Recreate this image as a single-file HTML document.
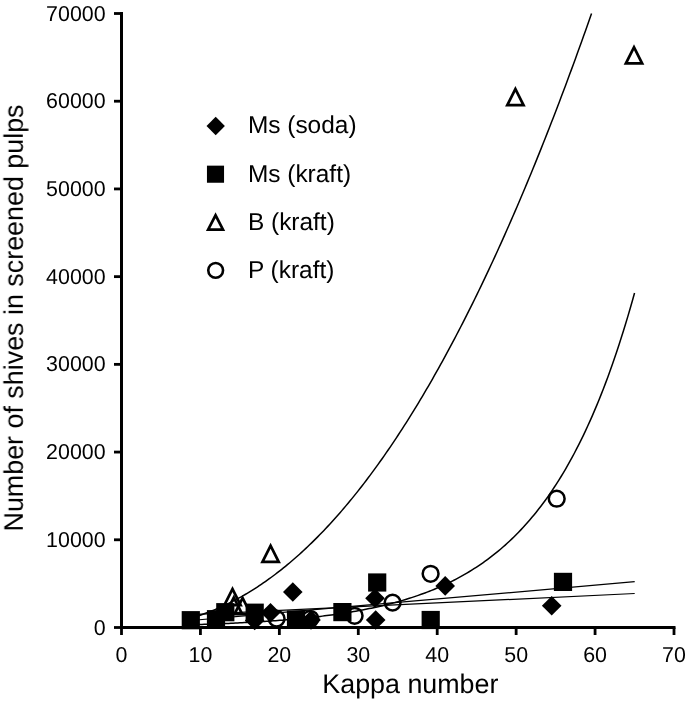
<!DOCTYPE html>
<html><head><meta charset="utf-8"><title>Chart</title>
<style>html,body{margin:0;padding:0;background:#fff;}body{width:685px;height:702px;overflow:hidden;font-family:"Liberation Sans",sans-serif;}svg{display:block;}text{font-family:"Liberation Sans",sans-serif;fill:#000;text-rendering:geometricPrecision;}</style></head><body>
<svg width="685" height="702" viewBox="0 0 685 702">
<rect width="685" height="702" fill="#fff"/>
<g fill="none" stroke="#000" stroke-width="1.50" stroke-linecap="butt" stroke-linejoin="round">
<path d="M190.80 618.21 L192.81 617.61 L194.83 616.99 L196.84 616.35 L198.86 615.68 L200.87 615.00 L202.88 614.30 L204.90 613.57 L206.91 612.82 L208.92 612.05 L210.94 611.27 L212.95 610.45 L214.97 609.62 L216.98 608.77 L218.99 607.89 L221.01 606.99 L223.02 606.07 L225.03 605.13 L227.05 604.17 L229.06 603.18 L231.08 602.18 L233.09 601.15 L235.10 600.09 L237.12 599.02 L239.13 597.92 L241.15 596.80 L243.16 595.66 L245.17 594.49 L247.19 593.30 L249.20 592.09 L251.21 590.86 L253.23 589.60 L255.24 588.32 L257.26 587.02 L259.27 585.69 L261.28 584.34 L263.30 582.97 L265.31 581.58 L267.32 580.16 L269.34 578.71 L271.35 577.25 L273.37 575.75 L275.38 574.24 L277.39 572.70 L279.41 571.14 L281.42 569.56 L283.43 567.95 L285.45 566.31 L287.46 564.65 L289.48 562.97 L291.49 561.27 L293.50 559.54 L295.52 557.78 L297.53 556.00 L299.55 554.20 L301.56 552.37 L303.57 550.52 L305.59 548.65 L307.60 546.75 L309.61 544.82 L311.63 542.87 L313.64 540.89 L315.66 538.90 L317.67 536.87 L319.68 534.82 L321.70 532.75 L323.71 530.65 L325.72 528.52 L327.74 526.37 L329.75 524.20 L331.77 522.00 L333.78 519.78 L335.79 517.53 L337.81 515.25 L339.82 512.95 L341.84 510.62 L343.85 508.27 L345.86 505.89 L347.88 503.49 L349.89 501.06 L351.90 498.61 L353.92 496.13 L355.93 493.63 L357.95 491.10 L359.96 488.54 L361.97 485.96 L363.99 483.35 L366.00 480.71 L368.01 478.05 L370.03 475.37 L372.04 472.66 L374.06 469.92 L376.07 467.16 L378.08 464.36 L380.10 461.55 L382.11 458.71 L384.13 455.84 L386.14 452.94 L388.15 450.02 L390.17 447.07 L392.18 444.10 L394.19 441.10 L396.21 438.07 L398.22 435.02 L400.24 431.94 L402.25 428.83 L404.26 425.70 L406.28 422.54 L408.29 419.35 L410.30 416.14 L412.32 412.90 L414.33 409.63 L416.35 406.34 L418.36 403.02 L420.37 399.67 L422.39 396.29 L424.40 392.89 L426.41 389.46 L428.43 386.01 L430.44 382.53 L432.46 379.02 L434.47 375.48 L436.48 371.92 L438.50 368.32 L440.51 364.71 L442.53 361.06 L444.54 357.39 L446.55 353.69 L448.57 349.96 L450.58 346.20 L452.59 342.42 L454.61 338.61 L456.62 334.77 L458.64 330.91 L460.65 327.02 L462.66 323.10 L464.68 319.15 L466.69 315.17 L468.70 311.17 L470.72 307.14 L472.73 303.08 L474.75 298.99 L476.76 294.88 L478.77 290.74 L480.79 286.57 L482.80 282.37 L484.82 278.14 L486.83 273.89 L488.84 269.61 L490.86 265.30 L492.87 260.96 L494.88 256.60 L496.90 252.20 L498.91 247.78 L500.93 243.33 L502.94 238.85 L504.95 234.35 L506.97 229.81 L508.98 225.25 L510.99 220.66 L513.01 216.04 L515.02 211.39 L517.04 206.71 L519.05 202.01 L521.06 197.28 L523.08 192.51 L525.09 187.72 L527.11 182.91 L529.12 178.06 L531.13 173.18 L533.15 168.28 L535.16 163.35 L537.17 158.38 L539.19 153.39 L541.20 148.37 L543.22 143.33 L545.23 138.25 L547.24 133.15 L549.26 128.01 L551.27 122.85 L553.28 117.66 L555.30 112.44 L557.31 107.19 L559.33 101.91 L561.34 96.60 L563.35 91.27 L565.37 85.90 L567.38 80.51 L569.39 75.08 L571.41 69.63 L573.42 64.15 L575.44 58.64 L577.45 53.10 L579.46 47.53 L581.48 41.93 L583.49 36.30 L585.51 30.65 L587.52 24.96 L589.53 19.24 L591.55 13.50"/>
<path d="M190.80 624.76 L193.03 624.70 L195.26 624.63 L197.49 624.56 L199.72 624.49 L201.95 624.41 L204.18 624.34 L206.41 624.26 L208.64 624.18 L210.87 624.10 L213.10 624.02 L215.33 623.93 L217.56 623.84 L219.79 623.76 L222.02 623.66 L224.25 623.57 L226.48 623.47 L228.71 623.38 L230.94 623.27 L233.17 623.17 L235.40 623.07 L237.63 622.96 L239.86 622.85 L242.09 622.73 L244.32 622.62 L246.55 622.50 L248.78 622.37 L251.01 622.25 L253.24 622.12 L255.47 621.99 L257.69 621.85 L259.92 621.72 L262.15 621.57 L264.38 621.43 L266.61 621.28 L268.84 621.13 L271.07 620.97 L273.30 620.81 L275.53 620.65 L277.76 620.48 L279.99 620.31 L282.22 620.14 L284.45 619.96 L286.68 619.77 L288.91 619.58 L291.14 619.39 L293.37 619.19 L295.60 618.99 L297.83 618.78 L300.06 618.57 L302.29 618.35 L304.52 618.12 L306.75 617.89 L308.98 617.66 L311.21 617.42 L313.44 617.17 L315.67 616.92 L317.90 616.66 L320.13 616.40 L322.36 616.13 L324.59 615.85 L326.82 615.56 L329.05 615.27 L331.28 614.97 L333.51 614.67 L335.74 614.35 L337.97 614.03 L340.20 613.70 L342.43 613.36 L344.66 613.02 L346.89 612.66 L349.12 612.30 L351.35 611.93 L353.58 611.55 L355.81 611.16 L358.04 610.76 L360.27 610.35 L362.50 609.93 L364.73 609.50 L366.96 609.06 L369.19 608.61 L371.42 608.15 L373.65 607.68 L375.88 607.19 L378.11 606.69 L380.34 606.19 L382.57 605.67 L384.80 605.13 L387.02 604.58 L389.25 604.02 L391.48 603.45 L393.71 602.86 L395.94 602.26 L398.17 601.64 L400.40 601.01 L402.63 600.36 L404.86 599.70 L407.09 599.02 L409.32 598.32 L411.55 597.61 L413.78 596.88 L416.01 596.13 L418.24 595.36 L420.47 594.58 L422.70 593.77 L424.93 592.95 L427.16 592.11 L429.39 591.24 L431.62 590.35 L433.85 589.45 L436.08 588.52 L438.31 587.56 L440.54 586.59 L442.77 585.59 L445.00 584.56 L447.23 583.51 L449.46 582.44 L451.69 581.33 L453.92 580.21 L456.15 579.05 L458.38 577.87 L460.61 576.65 L462.84 575.41 L465.07 574.14 L467.30 572.83 L469.53 571.49 L471.76 570.12 L473.99 568.72 L476.22 567.29 L478.45 565.81 L480.68 564.31 L482.91 562.76 L485.14 561.18 L487.37 559.56 L489.60 557.90 L491.83 556.19 L494.06 554.45 L496.29 552.67 L498.52 550.84 L500.75 548.96 L502.98 547.04 L505.21 545.07 L507.44 543.06 L509.67 541.00 L511.90 538.88 L514.13 536.71 L516.35 534.49 L518.58 532.22 L520.81 529.89 L523.04 527.51 L525.27 525.06 L527.50 522.56 L529.73 519.99 L531.96 517.36 L534.19 514.67 L536.42 511.91 L538.65 509.09 L540.88 506.19 L543.11 503.23 L545.34 500.19 L547.57 497.08 L549.80 493.89 L552.03 490.62 L554.26 487.28 L556.49 483.85 L558.72 480.34 L560.95 476.74 L563.18 473.05 L565.41 469.28 L567.64 465.41 L569.87 461.45 L572.10 457.39 L574.33 453.23 L576.56 448.97 L578.79 444.60 L581.02 440.13 L583.25 435.55 L585.48 430.86 L587.71 426.05 L589.94 421.13 L592.17 416.08 L594.40 410.91 L596.63 405.62 L598.86 400.19 L601.09 394.64 L603.32 388.94 L605.55 383.11 L607.78 377.14 L610.01 371.02 L612.24 364.75 L614.47 358.32 L616.70 351.74 L618.93 345.00 L621.16 338.10 L623.39 331.02 L625.62 323.77 L627.85 316.35 L630.08 308.74 L632.31 300.95 L634.54 292.97"/>
<path stroke-width="1.25" d="M190.80 620.50 L634.70 581.70"/>
<path stroke-width="1.25" d="M190.80 614.63 L634.70 593.50"/>
</g>
<g fill="#000">
<path d="M292.80 582.20 L302.60 592.00 L292.80 601.80 L283.00 592.00Z"/>
<path d="M270.50 603.00 L280.30 612.80 L270.50 622.60 L260.70 612.80Z"/>
<path d="M254.70 610.60 L264.50 620.40 L254.70 630.20 L244.90 620.40Z"/>
<path d="M311.00 610.20 L320.80 620.00 L311.00 629.80 L301.20 620.00Z"/>
<path d="M375.00 588.50 L384.80 598.30 L375.00 608.10 L365.20 598.30Z"/>
<path d="M375.70 610.20 L385.50 620.00 L375.70 629.80 L365.90 620.00Z"/>
<path d="M445.20 576.10 L455.00 585.90 L445.20 595.70 L435.40 585.90Z"/>
<path d="M551.70 595.90 L561.50 605.70 L551.70 615.50 L541.90 605.70Z"/>
<rect x="181.70" y="611.10" width="18.20" height="18.20"/>
<rect x="206.90" y="610.10" width="18.20" height="18.20"/>
<rect x="216.20" y="603.10" width="18.20" height="18.20"/>
<rect x="245.60" y="603.60" width="18.20" height="18.20"/>
<rect x="286.90" y="610.40" width="18.20" height="18.20"/>
<rect x="333.30" y="603.00" width="18.20" height="18.20"/>
<rect x="368.10" y="573.40" width="18.20" height="18.20"/>
<rect x="421.60" y="610.90" width="18.20" height="18.20"/>
<rect x="553.90" y="572.80" width="18.20" height="18.20"/>
<path fill-rule="evenodd" d="M232.50 585.95 L242.85 606.45 L222.15 606.45Z M232.50 592.05 L238.38 603.70 L226.62 603.70Z"/>
<path fill-rule="evenodd" d="M233.80 594.45 L244.15 614.95 L223.45 614.95Z M233.80 600.55 L239.68 612.20 L227.92 612.20Z"/>
<path fill-rule="evenodd" d="M242.60 594.95 L252.95 615.45 L232.25 615.45Z M242.60 601.05 L248.48 612.70 L236.72 612.70Z"/>
<path fill-rule="evenodd" d="M270.60 542.65 L280.95 563.15 L260.25 563.15Z M270.60 548.75 L276.48 560.40 L264.72 560.40Z"/>
<path fill-rule="evenodd" d="M515.40 86.00 L525.75 106.50 L505.05 106.50Z M515.40 92.10 L521.28 103.75 L509.52 103.75Z"/>
<path fill-rule="evenodd" d="M634.00 44.15 L644.35 64.65 L623.65 64.65Z M634.00 50.25 L639.88 61.90 L628.12 61.90Z"/>
<circle cx="276.60" cy="618.60" r="7.90" fill="none" stroke="#000" stroke-width="2.50"/>
<circle cx="310.30" cy="618.80" r="7.90" fill="none" stroke="#000" stroke-width="2.50"/>
<circle cx="354.60" cy="615.80" r="7.90" fill="none" stroke="#000" stroke-width="2.50"/>
<circle cx="392.60" cy="602.60" r="7.90" fill="none" stroke="#000" stroke-width="2.50"/>
<circle cx="430.60" cy="573.80" r="7.90" fill="none" stroke="#000" stroke-width="2.50"/>
<circle cx="556.70" cy="498.70" r="7.90" fill="none" stroke="#000" stroke-width="2.50"/>
</g>
<g fill="#000">
<rect x="120.00" y="12.00" width="3.00" height="617.00"/>
<rect x="120.00" y="626.00" width="555.50" height="3.00"/>
<rect x="114.00" y="626.10" width="7.50" height="2.80"/>
<rect x="120.10" y="627.50" width="2.80" height="7.50"/>
<rect x="114.00" y="538.39" width="7.50" height="2.80"/>
<rect x="199.03" y="627.50" width="2.80" height="7.50"/>
<rect x="114.00" y="450.67" width="7.50" height="2.80"/>
<rect x="277.96" y="627.50" width="2.80" height="7.50"/>
<rect x="114.00" y="362.96" width="7.50" height="2.80"/>
<rect x="356.89" y="627.50" width="2.80" height="7.50"/>
<rect x="114.00" y="275.24" width="7.50" height="2.80"/>
<rect x="435.81" y="627.50" width="2.80" height="7.50"/>
<rect x="114.00" y="187.53" width="7.50" height="2.80"/>
<rect x="514.74" y="627.50" width="2.80" height="7.50"/>
<rect x="114.00" y="99.81" width="7.50" height="2.80"/>
<rect x="593.67" y="627.50" width="2.80" height="7.50"/>
<rect x="114.00" y="12.10" width="7.50" height="2.80"/>
<rect x="672.60" y="627.50" width="2.80" height="7.50"/>
</g>
<g opacity="0.999">
<text transform="translate(105.60 634.50) scale(1 1.005)" font-size="21.40px" text-anchor="end">0</text>
<text transform="translate(121.50 662.20) scale(1 1.005)" font-size="21.40px" text-anchor="middle">0</text>
<text transform="translate(105.60 546.79) scale(1 1.005)" font-size="21.40px" text-anchor="end">10000</text>
<text transform="translate(200.43 662.20) scale(1 1.005)" font-size="21.40px" text-anchor="middle">10</text>
<text transform="translate(105.60 459.07) scale(1 1.005)" font-size="21.40px" text-anchor="end">20000</text>
<text transform="translate(279.36 662.20) scale(1 1.005)" font-size="21.40px" text-anchor="middle">20</text>
<text transform="translate(105.60 371.36) scale(1 1.005)" font-size="21.40px" text-anchor="end">30000</text>
<text transform="translate(358.29 662.20) scale(1 1.005)" font-size="21.40px" text-anchor="middle">30</text>
<text transform="translate(105.60 283.64) scale(1 1.005)" font-size="21.40px" text-anchor="end">40000</text>
<text transform="translate(437.21 662.20) scale(1 1.005)" font-size="21.40px" text-anchor="middle">40</text>
<text transform="translate(105.60 195.93) scale(1 1.005)" font-size="21.40px" text-anchor="end">50000</text>
<text transform="translate(516.14 662.20) scale(1 1.005)" font-size="21.40px" text-anchor="middle">50</text>
<text transform="translate(105.60 108.21) scale(1 1.005)" font-size="21.40px" text-anchor="end">60000</text>
<text transform="translate(595.07 662.20) scale(1 1.005)" font-size="21.40px" text-anchor="middle">60</text>
<text transform="translate(105.60 20.50) scale(1 1.005)" font-size="21.40px" text-anchor="end">70000</text>
<text transform="translate(674.00 662.20) scale(1 1.005)" font-size="21.40px" text-anchor="middle">70</text>
<text transform="translate(410.35 693.00)" font-size="26.85px" text-anchor="middle">Kappa number</text>
<text transform="translate(22.80 318.00) rotate(-90)" font-size="26.86px" text-anchor="middle">Number of shives in screened pulps</text>
<g fill="#000">
<path d="M215.70 116.80 L224.90 126.00 L215.70 135.20 L206.50 126.00Z"/>
<rect x="206.95" y="165.65" width="17.10" height="17.10"/>
<path fill-rule="evenodd" d="M215.56 212.25 L225.21 231.05 L205.91 231.05Z M215.56 218.16 L220.79 228.35 L210.33 228.35Z"/>
<circle cx="215.65" cy="270.35" r="7.40" fill="none" stroke="#000" stroke-width="2.60"/>
</g>
<text transform="translate(247.90 133.20)" font-size="24.45px" text-anchor="start">Ms (soda)</text>
<text transform="translate(247.90 181.80)" font-size="24.45px" text-anchor="start">Ms (kraft)</text>
<text transform="translate(247.90 229.90)" font-size="24.45px" text-anchor="start">B (kraft)</text>
<text transform="translate(247.90 278.40)" font-size="24.45px" text-anchor="start">P (kraft)</text>
</g>
</svg></body></html>
